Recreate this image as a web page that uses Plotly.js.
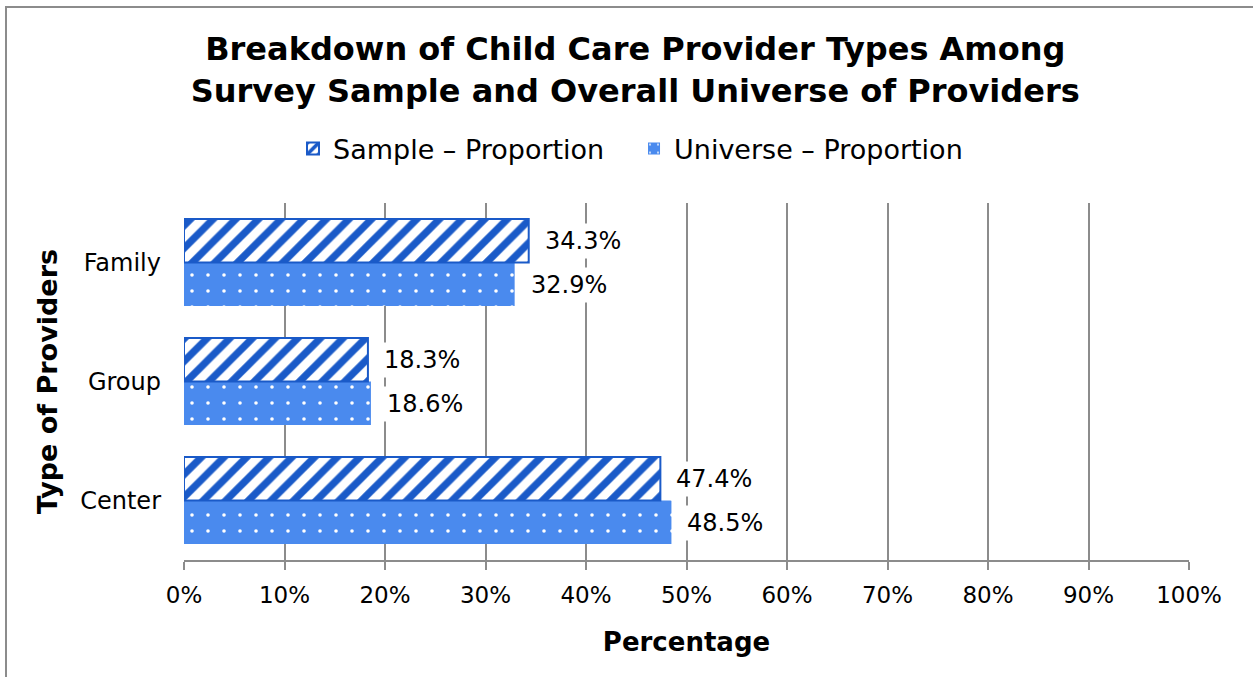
<!DOCTYPE html>
<html><head><meta charset="utf-8">
<script src="https://cdn.plot.ly/plotly-3.0.1.min.js"></script>
<style>
html,body{margin:0;padding:0;background:#fff;}
#frame{position:absolute;left:5px;top:6px;width:1300px;height:700px;border-left:2px solid #8c8c8c;border-top:2px solid #8c8c8c;pointer-events:none;z-index:10;}
#chart{width:1253px;height:677px;}
</style></head>
<body>
<div id="frame"></div>
<div id="chart"></div>
<script>
const categories = ["Center", "Group", "Family"];
const sampleValues = [47.4, 18.3, 34.3];
const universeValues = [48.5, 18.6, 32.9];
const xTickValues = [0,10,20,30,40,50,60,70,80,90,100];
const xTickLabels = ["0%","10%","20%","30%","40%","50%","60%","70%","80%","90%","100%"];

const F = "DejaVu Sans, Verdana, sans-serif";
const stripe = "#1A5AC8";
const solid = "#4A8AEE";

const universe = {
  type: "bar", orientation: "h", name: "Universe – Proportion",
  x: universeValues, y: categories,
  marker: {color: solid, line: {width: 0},
    pattern: {shape: ".", fgcolor: "#ffffff", bgcolor: solid, fgopacity: 1, size: 16, solidity: 0.04, fillmode: "overlay"}},
  legendrank: 2, hoverinfo: "x+y"
};
const sample = {
  type: "bar", orientation: "h", name: "Sample – Proportion",
  x: sampleValues, y: categories,
  marker: {color: "#ffffff", line: {width: 2, color: stripe},
    pattern: {shape: "/", fgcolor: stripe, bgcolor: "#ffffff", fgopacity: 1, size: 16, solidity: 0.45, fillmode: "overlay"}},
  legendrank: 1, hoverinfo: "x+y"
};

const annotations = [];
categories.forEach((c, i) => {
  annotations.push({x: sampleValues[i], y: c, xref: "x", yref: "y", text: sampleValues[i].toFixed(1) + "%",
    showarrow: false, xanchor: "left", yanchor: "middle", xshift: 12, yshift: 22,
    bgcolor: "#ffffff", borderpad: 3, font: {family: F, size: 24, color: "#000"}});
  annotations.push({x: universeValues[i], y: c, xref: "x", yref: "y", text: universeValues[i].toFixed(1) + "%",
    showarrow: false, xanchor: "left", yanchor: "middle", xshift: 12, yshift: -22,
    bgcolor: "#ffffff", borderpad: 3, font: {family: F, size: 24, color: "#000"}});
});

const layout = {
  width: 1253, height: 677,
  paper_bgcolor: "#ffffff", plot_bgcolor: "#ffffff",
  margin: {l: 184, r: 64, t: 203, b: 117},
  font: {family: F, color: "#000"},
  title: {text: "<b>Breakdown of Child Care Provider Types Among<br>Survey Sample and Overall Universe of Providers</b>",
    font: {family: F, size: 32, color: "#000"}, x: 0.507, xref: "container", xanchor: "center",
    y: 1 - 60/677, yref: "container", yanchor: "top"},
  barmode: "group", bargap: 0.27, bargroupgap: 0,
  showlegend: true,
  legend: {orientation: "h", x: 0.506, xref: "container", xanchor: "center",
    y: 1 - 149/677, yref: "container", yanchor: "middle",
    font: {family: F, size: 27, color: "#000"}, itemwidth: 30, entrywidth: 296, entrywidthmode: "pixels",
    tracegroupgap: 0, traceorder: "normal"},
  xaxis: {range: [0, 100], tickvals: xTickValues, ticktext: xTickLabels,
    showgrid: true, gridcolor: "#8c8c8c", gridwidth: 2,
    showline: true, linecolor: "#8c8c8c", linewidth: 2,
    ticks: "outside", ticklen: 8, tickwidth: 2, tickcolor: "#8c8c8c",
    tickfont: {family: F, size: 23, color: "#000"}, ticklabelstandoff: 5,
    zeroline: false, fixedrange: true,
    title: {text: "<b>Percentage</b>", font: {family: F, size: 26, color: "#000"}, standoff: 26}},
  yaxis: {type: "category", categoryorder: "array", categoryarray: categories,
    range: [-0.5, 2.5], showgrid: false, showline: false, zeroline: false, ticks: "",
    tickfont: {family: F, size: 24, color: "#000"}, ticklabelstandoff: 22, fixedrange: true,
    title: {text: "<b>Type of Providers</b>", font: {family: F, size: 27, color: "#000"}, standoff: 14}},
  annotations: annotations
};

Plotly.newPlot("chart", [universe, sample], layout, {displayModeBar: false, staticPlot: true});
</script>
</body></html>
